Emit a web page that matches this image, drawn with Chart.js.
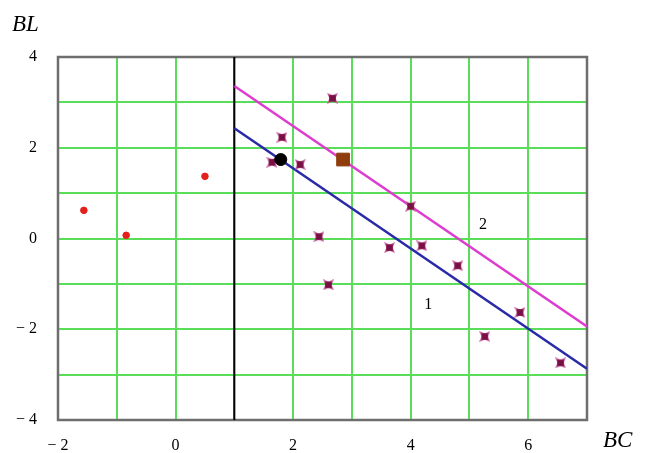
<!DOCTYPE html>
<html>
<head>
<meta charset="utf-8">
<script src="https://cdn.jsdelivr.net/npm/chart.js@4"></script>
<style>
  html, body { margin: 0; padding: 0; background: #fff; }
  #wrap { width: 651px; height: 453px; }
</style>
</head>
<body>
<div id="wrap"><canvas id="chart" width="651" height="453"></canvas></div>
<script>
// scatter groups
const redX = [-1.56, -0.84, 0.50];
const redY = [0.62, 0.07, 1.37];

const starX = [1.81, 1.64, 2.12, 2.67, 4.00, 2.44, 2.60, 3.64, 4.19, 4.80, 5.86, 5.26, 6.55];
const starY = [2.23, 1.68, 1.63, 3.09, 0.71, 0.04, -1.02, -0.20, -0.16, -0.60, -1.63, -2.16, -2.74];

const blackDotX = [1.79];
const blackDotY = [1.74];
const brownSqX = [2.85];
const brownSqY = [1.74];

// the two fitted lines and the vertical boundary
const lineX = [1, 7];
const line1Y = [2.43, -2.87];
const line2Y = [3.36, -1.94];
const boundaryX = [1, 1];
const boundaryY = [-4, 4];

// curve labels
const curveLabels = ["1", "2"];
const curveLabelX = [4.3, 5.23];
const curveLabelY = [-1.46, 0.31];

const X_MIN = -2, X_MAX = 7, Y_MIN = -4, Y_MAX = 4;

function zip(xs, ys) {
  return xs.map((x, i) => ({ x, y: ys[i] }));
}

function fmtTick(v) {
  if (Math.abs(v % 2) > 1e-9) return "";
  return v < 0 ? "\u2212 " + Math.abs(v) : String(v);
}

function makeStar(size) {
  const c = document.createElement("canvas");
  c.width = c.height = size;
  const ctx = c.getContext("2d");
  const h = size / 2;
  ctx.fillStyle = "#c25a98";
  ctx.beginPath();
  ctx.moveTo(0, 0);
  ctx.lineTo(h, size * 0.22);
  ctx.lineTo(size, 0);
  ctx.lineTo(size * 0.78, h);
  ctx.lineTo(size, size);
  ctx.lineTo(h, size * 0.78);
  ctx.lineTo(0, size);
  ctx.lineTo(size * 0.22, h);
  ctx.closePath();
  ctx.fill();
  ctx.fillStyle = "#7a0f45";
  ctx.fillRect(size * 0.2, size * 0.2, size * 0.6, size * 0.6);
  return c;
}

const serif = "'Liberation Serif', 'DejaVu Serif', serif";

const decorPlugin = {
  id: "decor",
  beforeDatasetsDraw(chart) {
    const { ctx, chartArea: a } = chart;
    ctx.save();
    ctx.strokeStyle = "#6e6e6e";
    ctx.lineWidth = 2.5;
    ctx.strokeRect(a.left, a.top, a.right - a.left, a.bottom - a.top);
    ctx.restore();
  },
  afterDraw(chart) {
    const { ctx, scales } = chart;
    ctx.save();
    ctx.font = "16px " + serif;
    ctx.textAlign = "center";
    ctx.textBaseline = "middle";
    curveLabels.forEach((t, i) => {
      const px = scales.x.getPixelForValue(curveLabelX[i]);
      const py = scales.y.getPixelForValue(curveLabelY[i]);
      ctx.fillStyle = "#fff";
      ctx.fillRect(px - 13, py - 13, 26, 26);
      ctx.fillStyle = "#000";
      ctx.fillText(t, px, py);
    });
    ctx.font = "italic 23px " + serif;
    ctx.textAlign = "left";
    ctx.textBaseline = "alphabetic";
    ctx.fillText("BL", 12, 31);
    ctx.fillText("BC", 603, 447);
    ctx.restore();
  },
};

new Chart(document.getElementById("chart"), {
  type: "scatter",
  data: {
    // earlier datasets are painted on top
    datasets: [
      {
        label: "black", data: zip(blackDotX, blackDotY),
        backgroundColor: "#000", borderColor: "#000", pointRadius: 6,
      },
      {
        label: "brown", data: zip(brownSqX, brownSqY), pointStyle: "rect",
        backgroundColor: "#8f3d0c", borderColor: "#8f3d0c", pointRadius: 9,
      },
      {
        label: "stars", data: zip(starX, starY),
        pointStyle: makeStar(11), pointRadius: 5.5,
      },
      {
        label: "red", data: zip(redX, redY),
        backgroundColor: "#e3201c", borderColor: "#e3201c", pointRadius: 3.3,
      },
      {
        label: "line 1", data: zip(lineX, line1Y), showLine: true,
        borderColor: "#2a2aa8", borderWidth: 2.5, pointRadius: 0,
      },
      {
        label: "line 2", data: zip(lineX, line2Y), showLine: true,
        borderColor: "#dd3ccf", borderWidth: 2.5, pointRadius: 0,
      },
      {
        label: "boundary", data: zip(boundaryX, boundaryY), showLine: true,
        borderColor: "#000", borderWidth: 2, pointRadius: 0,
      },
    ],
  },
  options: {
    responsive: false,
    animation: false,
    events: [],
    layout: { padding: { top: 57, right: 64, left: 0, bottom: 0 } },
    plugins: { legend: { display: false }, tooltip: { enabled: false } },
    scales: {
      x: {
        type: "linear", min: X_MIN, max: X_MAX,
        afterFit: (s) => { s.height = 33; },
        grid: { color: "#5ade5a", lineWidth: 2, drawTicks: false },
        border: { display: false },
        ticks: {
          stepSize: 1, autoSkip: false, maxRotation: 0, padding: 16,
          color: "#000", font: { family: serif, size: 16 }, callback: fmtTick,
        },
      },
      y: {
        type: "linear", min: Y_MIN, max: Y_MAX,
        afterFit: (s) => { s.width = 58; },
        grid: { color: "#5ade5a", lineWidth: 2, drawTicks: false },
        border: { display: false },
        ticks: {
          stepSize: 1, autoSkip: false, padding: 21,
          color: "#000", font: { family: serif, size: 16 }, callback: fmtTick,
        },
      },
    },
  },
  plugins: [decorPlugin],
});
</script>
</body>
</html>
